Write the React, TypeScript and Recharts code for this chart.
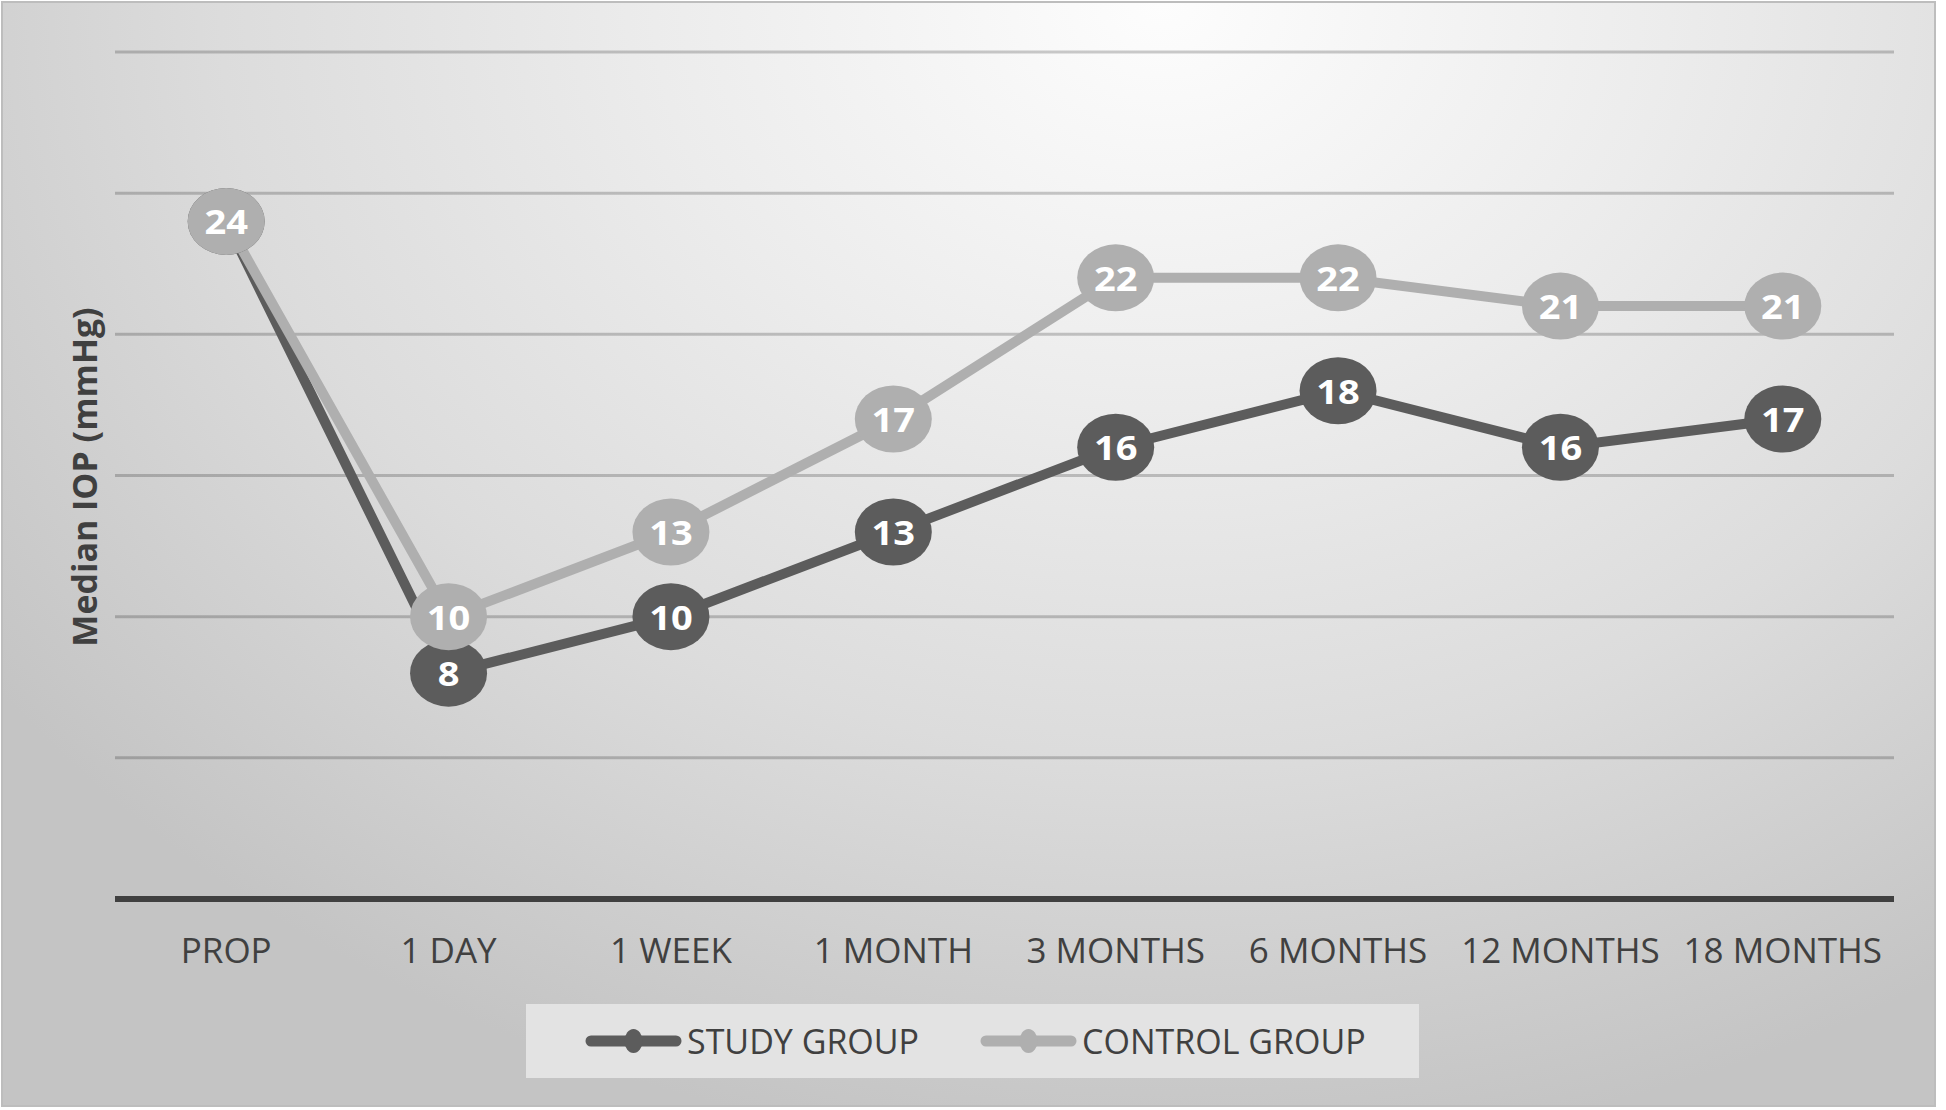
import React from 'react';
import { LineChart, Line, XAxis, YAxis, CartesianGrid, Legend } from 'recharts';

const categories = ['PROP', '1 DAY', '1 WEEK', '1 MONTH', '3 MONTHS', '6 MONTHS', '12 MONTHS', '18 MONTHS'];
const studyGroup = [24, 8, 10, 13, 16, 18, 16, 17];
const controlGroup = [24, 10, 13, 17, 22, 22, 21, 21];
const yTicks = [0, 5, 10, 15, 20, 25, 30];
const yDomain = [0, 30];
const seriesNames = ['STUDY GROUP', 'CONTROL GROUP'];

const STUDY_COLOR = '#5c5c5c';
const CONTROL_COLOR = '#afafaf';
const seriesColors = [STUDY_COLOR, CONTROL_COLOR];
const FONT = '"Open Sans", "Noto Sans", sans-serif';

const data = categories.map((c, i) => ({ name: c, study: studyGroup[i], control: controlGroup[i] }));

const makeDot = (fill: string, key: string) => (props: any) => {
  const { cx, cy, payload, index } = props;
  if (cx == null || cy == null) return <g key={`${key}-${index}`} />;
  const v = payload[key];
  return (
    <g key={`${key}-${index}`}>
      <ellipse cx={cx} cy={cy} rx={38.5} ry={33.5} fill={fill} />
      <text
        x={cx}
        y={cy + 13}
        textAnchor="middle"
        fill="#ffffff"
        fontWeight={700}
        fontSize={34}
        fontFamily={FONT}
        transform={`translate(${cx} ${cy}) scale(1.12 1) translate(${-cx} ${-cy})`}
      >
        {v}
      </text>
    </g>
  );
};

const renderLegend = () => {
  return (
    <div
      style={{
        width: '100%',
        height: '100%',
        background: '#e3e3e3',
        display: 'flex',
        alignItems: 'center',
        paddingLeft: 59,
        boxSizing: 'border-box',
        fontFamily: FONT,
      }}
    >
      {seriesNames.map((name, i) => (
        <div key={i} style={{ display: 'flex', alignItems: 'center', marginRight: i === 0 ? 61 : 0 }}>
          <svg width={97} height={30} style={{ display: 'block' }}>
            <line x1={6} y1={15} x2={91} y2={15} stroke={seriesColors[i]} strokeWidth={11} strokeLinecap="round" />
            <ellipse cx={48.5} cy={15} rx={9} ry={12} fill={seriesColors[i]} />
          </svg>
          <span style={{ marginLeft: 5, fontSize: 34, color: '#404040', lineHeight: '34px', letterSpacing: 0 }}>
            {name}
          </span>
        </div>
      ))}
    </div>
  );
};

const gridGenerator = (p: any) => {
  const s = p && p.yAxis && p.yAxis.scale;
  if (typeof s === 'function') return yTicks.map((t) => s(t));
  if (s && typeof s.map === 'function') return yTicks.map((t) => s.map(t));
  const off = p.offset;
  return yTicks.map((t) => off.top + off.height * (1 - (t - yDomain[0]) / (yDomain[1] - yDomain[0])));
};

export default function App() {
  return (
    <div style={{ position: 'absolute', left: 0, top: 0, width: 1946, height: 1110, background: '#ffffff' }}>
      <div
        style={{
          position: 'absolute',
          left: 1,
          top: 1,
          width: 1935,
          height: 1106,
          boxSizing: 'border-box',
          border: '2px solid #bdbdbd',
          background:
            'radial-gradient(ellipse 75% 105% at 60% 0%, #fdfdfd 0%, #ececec 35%, #dcdcdc 65%, #c4c4c4 100%)',
        }}
      />
      <svg width={140} height={1110} style={{ position: 'absolute', left: 0, top: 0 }}>
        <text
          x={97}
          y={477}
          textAnchor="middle"
          fill="#404040"
          fontWeight={700}
          fontSize={34}
          fontFamily={FONT}
          transform="rotate(-90 97 477)"
        >
          Median IOP (mmHg)
        </text>
      </svg>
      <div style={{ position: 'absolute', left: 0, top: 0 }}>
        <LineChart
          width={1946}
          height={1110}
          data={data}
          margin={{ top: 52, right: 52, left: 115, bottom: 151 }}
          style={{ fontFamily: FONT }}
        >
          <CartesianGrid
            horizontal={true}
            vertical={false}
            stroke="rgba(0,0,0,0.2)"
            strokeWidth={3}
            horizontalCoordinatesGenerator={gridGenerator}
          />
          <XAxis
            dataKey="name"
            scale="band"
            height={60}
            tickLine={false}
            tickSize={0}
            tickMargin={39}
            axisLine={{ stroke: '#404040', strokeWidth: 6 }}
            tick={{ fill: '#404040', fontSize: 35, fontFamily: FONT }}
            interval={0}
          />
          <YAxis
            domain={yDomain}
            ticks={yTicks}
            tick={false}
            tickLine={false}
            axisLine={false}
            width={0}
          />
          <Legend
            layout="horizontal"
            verticalAlign="middle"
            align="center"
            content={renderLegend}
            wrapperStyle={{ position: 'absolute', left: 526, top: 1004, width: 893, height: 74 }}
          />
          <Line
            type="linear"
            dataKey="study"
            name="STUDY GROUP"
            stroke={STUDY_COLOR}
            strokeWidth={10}
            dot={makeDot(STUDY_COLOR, 'study')}
            activeDot={false}
            isAnimationActive={false}
          />
          <Line
            type="linear"
            dataKey="control"
            name="CONTROL GROUP"
            stroke={CONTROL_COLOR}
            strokeWidth={10}
            dot={makeDot(CONTROL_COLOR, 'control')}
            activeDot={false}
            isAnimationActive={false}
          />
        </LineChart>
      </div>
    </div>
  );
}
